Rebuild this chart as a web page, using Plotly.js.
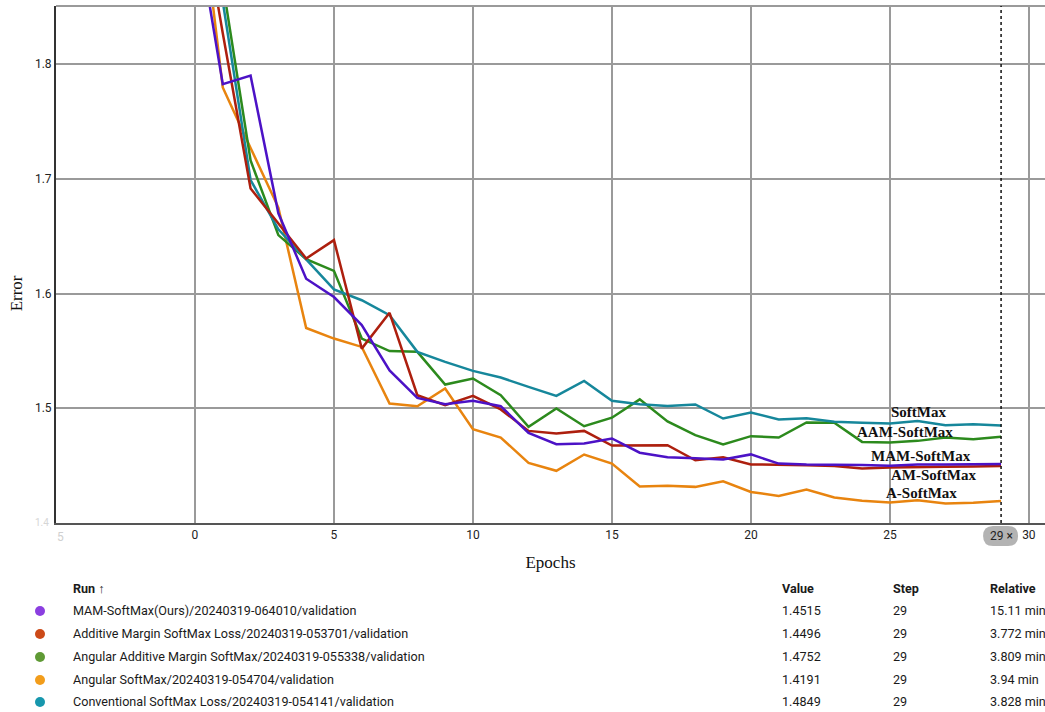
<!DOCTYPE html>
<html>
<head>
<meta charset="utf-8">
<script src="https://cdn.plot.ly/plotly-3.0.1.min.js"></script>
<style>
  html, body { margin: 0; padding: 0; background: #fff; }
  #wrap { position: relative; width: 1045px; height: 712px; overflow: hidden; }
  #chart { position: absolute; left: 0; top: 0; width: 1045px; height: 712px; }
  .cell { position: absolute; font-family: Roboto, "Noto Sans", sans-serif; font-size: 12.6px; color: #1a1a1a; white-space: nowrap; line-height: 14px; }
  .hdr { font-weight: bold; }
  .dot { position: absolute; width: 10px; height: 10px; border-radius: 50%; }
</style>
</head>
<body>
<div id="wrap">
  <div id="chart"></div>
</div>
<script>
// ---------- data ----------
const epochs = [0,1,2,3,4,5,6,7,8,9,10,11,12,13,14,15,16,17,18,19,20,21,22,23,24,25,26,27,28,29];

const mamSoftmax = [1.928,1.7826,1.790,1.670,1.613,1.597,1.5725,1.533,1.509,1.5036,1.5065,1.5018,1.4786,1.4687,1.4693,1.4737,1.4613,1.4574,1.4565,1.4553,1.4598,1.4518,1.451,1.451,1.4505,1.450,1.451,1.451,1.4512,1.4515];
const amSoftmax  = [1.967,1.827,1.6916,1.661,1.6306,1.6466,1.552,1.5832,1.5114,1.5027,1.5108,1.499,1.4803,1.478,1.4803,1.4675,1.4678,1.4678,1.4547,1.4573,1.4511,1.451,1.4504,1.4497,1.4476,1.4484,1.449,1.449,1.4493,1.4496];
const aamSoftmax = [2.03,1.87,1.716,1.651,1.630,1.6198,1.5608,1.5499,1.5492,1.5207,1.526,1.5114,1.4839,1.4999,1.4844,1.4918,1.5078,1.4886,1.4766,1.4684,1.4757,1.4745,1.4876,1.4874,1.4707,1.4702,1.4716,1.4745,1.473,1.4752];
const aSoftmax   = [1.982,1.7797,1.727,1.675,1.570,1.5608,1.5535,1.5042,1.5018,1.5173,1.4818,1.4745,1.4524,1.4455,1.4597,1.4518,1.4318,1.4325,1.4315,1.4364,1.4271,1.4236,1.4292,1.4222,1.4193,1.4179,1.4199,1.417,1.4176,1.4191];
const softmax    = [2.01,1.853,1.699,1.656,1.630,1.6036,1.5942,1.5812,1.5492,1.5405,1.5326,1.5268,1.5187,1.5108,1.5239,1.5065,1.5035,1.502,1.5033,1.4911,1.4963,1.4902,1.4914,1.4882,1.4873,1.4867,1.489,1.4853,1.4861,1.4849];

const yTickVals = [1.5, 1.6, 1.7, 1.8];
const xTickVals = [0, 5, 10, 15, 20, 25, 30];

const curveLabels = ["SoftMax", "AAM-SoftMax", "MAM-SoftMax", "AM-SoftMax", "A-SoftMax"];
const curveLabelX = [26.02, 25.53, 26.13, 26.58, 26.15];
const curveLabelY = [1.4966, 1.4792, 1.4582, 1.4417, 1.4260];

const runNames = [
  "MAM-SoftMax(Ours)/20240319-064010/validation",
  "Additive Margin SoftMax Loss/20240319-053701/validation",
  "Angular Additive Margin SoftMax/20240319-055338/validation",
  "Angular SoftMax/20240319-054704/validation",
  "Conventional SoftMax Loss/20240319-054141/validation"
];
const runValues = ["1.4515", "1.4496", "1.4752", "1.4191", "1.4849"];
const runSteps = ["29", "29", "29", "29", "29"];
const runRelative = ["15.11 min", "3.772 min", "3.809 min", "3.94 min", "3.828 min"];
const tableHeaders = ["Run \u2191", "Value", "Step", "Relative"];
const selectedStep = 29;

// ---------- styles ----------
const lineColors = { mam: "#4c12c6", am: "#ad1f0e", aam: "#2c8a1d", a: "#e8840f", sm: "#16879b" };
const dotColors = ["#8b3ee0", "#cc4a18", "#5f9a35", "#f29d1b", "#1797ad"];

function tr(y, color, name) {
  return { x: epochs, y: y, type: "scatter", mode: "lines", name: name,
           line: { color: color, width: 2.5 }, hoverinfo: "skip" };
}
const traces = [
  tr(aSoftmax, lineColors.a, "A-SoftMax"),
  tr(aamSoftmax, lineColors.aam, "AAM-SoftMax"),
  tr(softmax, lineColors.sm, "SoftMax"),
  tr(amSoftmax, lineColors.am, "AM-SoftMax"),
  tr(mamSoftmax, lineColors.mam, "MAM-SoftMax")
];

const serif = "'Liberation Serif', 'DejaVu Serif', serif";
const annotations = curveLabels.map((t, i) => ({
  x: curveLabelX[i], y: curveLabelY[i], xref: "x", yref: "y", text: "<b>" + t + "</b>",
  showarrow: false, font: { family: serif, size: 15, color: "#111" }, xanchor: "center", yanchor: "middle"
}));
annotations.push({ x: -0.039, y: 0.445, xref: "paper", yref: "paper", text: "Error", textangle: -90,
  showarrow: false, font: { family: serif, size: 17, color: "#111" }, xanchor: "center", yanchor: "middle" });
annotations.push({ x: 0, y: 1.4, xref: "paper", yref: "y", xanchor: "right", yanchor: "middle", xshift: -5, yshift: 1,
  text: "1.4", showarrow: false, font: { family: "Roboto", size: 10, color: "#d6d6d6" } });
annotations.push({ x: -5, y: 0, xref: "x", yref: "paper", xanchor: "left", yanchor: "top", yshift: -5, xshift: -1,
  text: "5", showarrow: false, font: { family: "Roboto", size: 12, color: "#d0d0d0" } });
annotations.push({ x: selectedStep, y: 0, xref: "x", yref: "paper", xanchor: "center", yanchor: "middle", yshift: -13,
  text: selectedStep + " \u00d7", showarrow: false, font: { family: "Roboto", size: 12, color: "#222" } });

const shapes = [
  { type: "line", xref: "paper", yref: "paper", x0: 0, x1: 1, y0: 1, y1: 1, line: { color: "#9a9a9a", width: 2 } },
  { type: "line", xref: "x", yref: "paper", x0: selectedStep, x1: selectedStep, y0: 0, y1: 1,
    line: { color: "#111", width: 1.5, dash: "dot" } },
  { type: "path", xref: "x", yref: "paper", xsizemode: "pixel", ysizemode: "pixel", xanchor: selectedStep, yanchor: 0,
    path: "M -8,-3 L 7,-3 Q 17,-3 17,-13 Q 17,-23 7,-23 L -8,-23 Q -18,-23 -18,-13 Q -18,-3 -8,-3 Z",
    fillcolor: "#b3b3b3", line: { width: 0 }, layer: "below" }
];

const layout = {
  width: 1045, height: 712,
  margin: { l: 56, r: 0, t: 6, b: 189 },
  paper_bgcolor: "#fff", plot_bgcolor: "#fff",
  showlegend: false,
  xaxis: {
    range: [-5, 30.58], tickvals: xTickVals, ticktext: xTickVals.map(String),
    showgrid: true, gridcolor: "#9a9a9a", gridwidth: 2, zeroline: false,
    showline: true, linecolor: "#555", linewidth: 2, ticks: "",
    tickfont: { family: "Roboto", size: 12, color: "#222" },
    title: { text: "Epochs", font: { family: serif, size: 17, color: "#111" }, standoff: 15 }
  },
  yaxis: {
    range: [1.4, 1.8507], tickvals: yTickVals, ticktext: yTickVals.map(v => v.toFixed(1)),
    showgrid: true, gridcolor: "#9a9a9a", gridwidth: 2, zeroline: false,
    showline: true, linecolor: "#333", linewidth: 2, ticks: "",
    tickfont: { family: "Roboto", size: 12, color: "#222" }
  },
  annotations: annotations,
  shapes: shapes
};

Plotly.newPlot("chart", traces, layout, { displayModeBar: false, staticPlot: true });

// ---------- run table ----------
const wrap = document.getElementById("wrap");
const colX = [73, 782, 893, 990];
const headerY = 589;
const rowY = [611, 634, 657, 680, 702];
function cell(text, x, yc, bold) {
  const d = document.createElement("div");
  d.className = "cell" + (bold ? " hdr" : "");
  d.textContent = text;
  d.style.left = x + "px";
  d.style.top = (yc - 7) + "px";
  wrap.appendChild(d);
}
tableHeaders.forEach((h, i) => cell(h, colX[i], headerY, true));
runNames.forEach((n, i) => {
  const dot = document.createElement("div");
  dot.className = "dot";
  dot.style.background = dotColors[i];
  dot.style.left = "35px";
  dot.style.top = (rowY[i] - 5) + "px";
  wrap.appendChild(dot);
  cell(n, colX[0], rowY[i], false);
  cell(runValues[i], colX[1], rowY[i], false);
  cell(runSteps[i], colX[2], rowY[i], false);
  cell(runRelative[i], colX[3], rowY[i], false);
});
</script>
</body>
</html>
